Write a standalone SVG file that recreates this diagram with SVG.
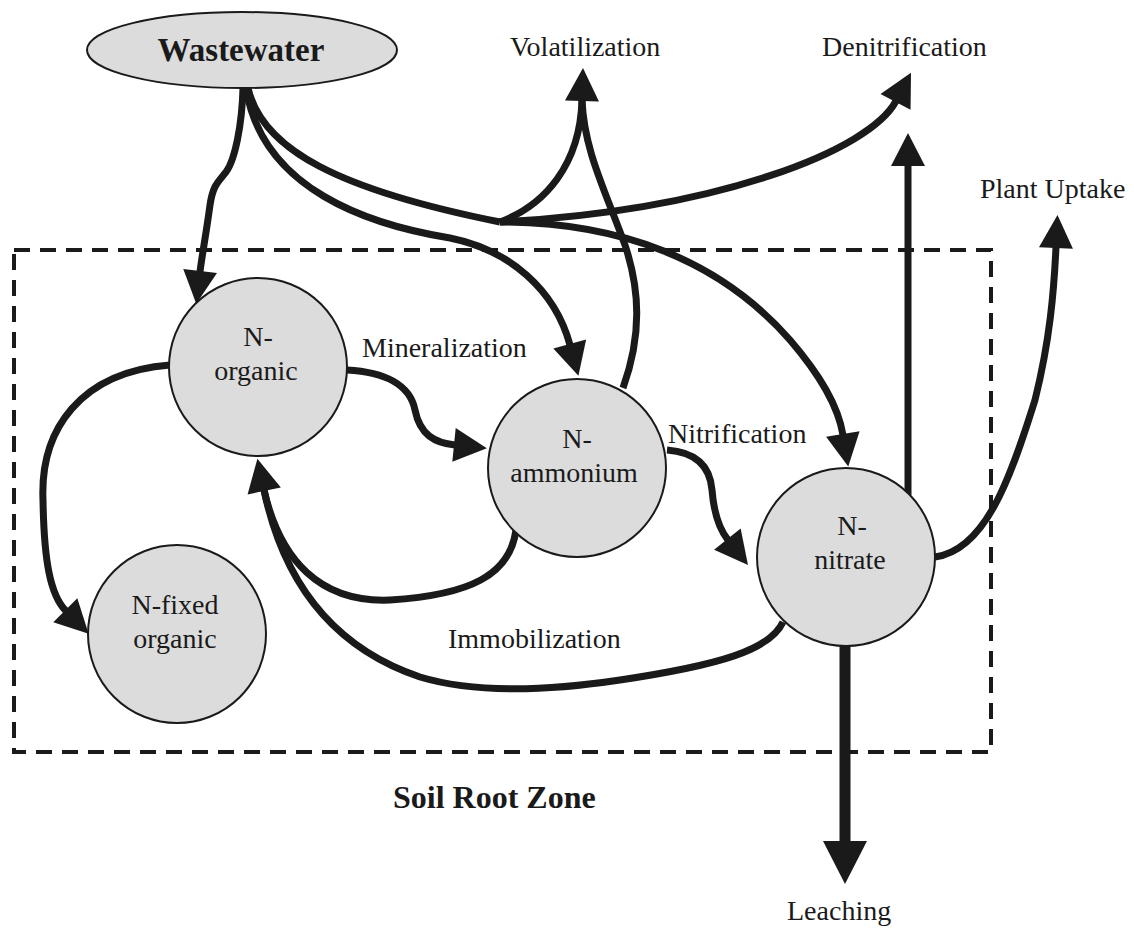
<svg xmlns="http://www.w3.org/2000/svg" width="1134" height="929" viewBox="0 0 1134 929">
<style>
.bg{fill:#ffffff}
.box{fill:none;stroke:#1a1a1a;stroke-width:4;stroke-dasharray:16 10}
.node{fill:#dcdcdc;stroke:#1a1a1a;stroke-width:2}
.c{fill:none;stroke:#1a1a1a;stroke-width:7;stroke-linecap:butt;stroke-linejoin:round}
.thick{stroke-width:11}
.t{font-family:"Liberation Serif","Times New Roman",serif;font-size:28px;fill:#1a1a1a}
.b{font-family:"Liberation Serif","Times New Roman",serif;font-weight:bold;fill:#1a1a1a}
.m{text-anchor:middle}
</style>
<defs>
<marker id="ah" markerUnits="userSpaceOnUse" markerWidth="34" markerHeight="34" viewBox="0 0 34 34" refX="1" refY="17" orient="auto" overflow="visible">
<path d="M0,0 L33,17 L0,34 z" fill="#1a1a1a"/>
</marker>
<marker id="ahBig" markerUnits="userSpaceOnUse" markerWidth="44" markerHeight="44" viewBox="0 0 44 44" refX="1" refY="22" orient="auto" overflow="visible">
<path d="M0,0 L43,22 L0,44 z" fill="#1a1a1a"/>
</marker>
</defs>
<rect class="bg" x="0" y="0" width="1134" height="929"/>

<g id="soil-root-zone">
<rect class="box" x="14" y="250" width="977" height="502"/>
<text class="b" x="393" y="808" font-size="32">Soil Root Zone</text>
</g>

<g id="connectors">
<!-- Wastewater to N-organic -->
<path class="c" d="M243 88 C242 125 235 160 226 172 C218 182 213 185 210 205 C206 235 202 255 200 272" marker-end="url(#ah)"/>
<!-- Wastewater trunk to junction -->
<path class="c" d="M248 88 C262 150 340 190 500 222"/>
<!-- Wastewater to N-ammonium -->
<path class="c" d="M246 88 C262 190 370 225 450 238 C510 250 555 290 570 345" marker-end="url(#ah)"/>
<!-- junction to Volatilization -->
<path class="c" d="M500 222 C545 205 580 165 582 100" marker-end="url(#ah)"/>
<!-- junction to Denitrification -->
<path class="c" d="M500 222 C720 210 870 150 896 101" marker-end="url(#ah)"/>
<!-- junction to N-nitrate -->
<path class="c" d="M500 222 C620 222 720 260 790 340 C820 375 838 405 843 435" marker-end="url(#ah)"/>
<!-- N-ammonium to Volatilization -->
<path class="c" d="M623 388 C642 335 640 290 625 245 C605 190 584 150 582 100"/>
<!-- Mineralization -->
<path class="c" d="M347 370 C385 372 410 385 415 410 C420 435 435 443 455 445" marker-end="url(#ah)"/>
<!-- Nitrification -->
<path class="c" d="M667 450 C695 452 710 465 712 490 C714 515 720 530 728 540" marker-end="url(#ah)"/>
<!-- N-organic to N-fixed organic -->
<path class="c" d="M170 365 C80 372 40 430 43 500 C44 560 50 595 66 611" marker-end="url(#ah)"/>
<!-- Immobilization from N-ammonium -->
<path class="c" d="M516 530 C510 575 470 595 390 600 C320 603 280 560 264 490"/>
<!-- Immobilization from N-nitrate -->
<path class="c" d="M783 622 C770 650 720 665 620 680 C540 692 470 692 420 677 C340 650 285 590 264 490" marker-end="url(#ah)"/>
<!-- N-nitrate to Denitrification -->
<path class="c" d="M908 495 L908 165" marker-end="url(#ah)"/>
<!-- N-nitrate to Plant Uptake -->
<path class="c" d="M935 557 C985 550 1010 480 1035 400 C1050 340 1054 290 1056 247" marker-end="url(#ah)"/>
<!-- Leaching -->
<path class="c thick" d="M845 646 L845 842" marker-end="url(#ahBig)"/>
</g>

<g id="labels">
<text class="t" x="510" y="56">Volatilization</text>
<text class="t" x="822" y="56">Denitrification</text>
<text class="t" x="980" y="198">Plant Uptake</text>
<text class="t" x="362" y="357">Mineralization</text>
<text class="t" x="668" y="443">Nitrification</text>
<text class="t" x="448" y="648">Immobilization</text>
<text class="t" x="787" y="920">Leaching</text>
</g>

<g id="wastewater">
<ellipse class="node" cx="242" cy="50" rx="155" ry="38"/>
<text class="b m" x="241" y="61" font-size="33">Wastewater</text>
</g>
<g id="n-organic">
<circle class="node" cx="258" cy="367" r="89"/>
<text class="t m" x="258" y="346">N-</text>
<text class="t m" x="256" y="380">organic</text>
</g>
<g id="n-ammonium">
<circle class="node" cx="577" cy="468" r="89"/>
<text class="t m" x="577" y="448">N-</text>
<text class="t m" x="574" y="482">ammonium</text>
</g>
<g id="n-nitrate">
<circle class="node" cx="846" cy="557" r="89"/>
<text class="t m" x="852" y="535">N-</text>
<text class="t m" x="850" y="569">nitrate</text>
</g>
<g id="n-fixed-organic">
<circle class="node" cx="177" cy="634" r="89"/>
<text class="t m" x="175" y="614">N-fixed</text>
<text class="t m" x="175" y="648">organic</text>
</g>
</svg>
